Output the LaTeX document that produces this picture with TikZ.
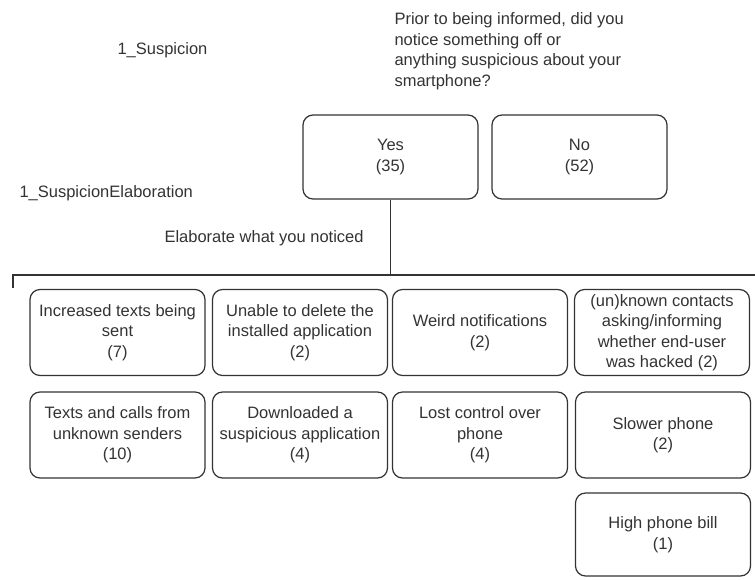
\documentclass[tikz,border=0pt]{standalone}
\usepackage{fontspec}
\setmainfont{Liberation Sans}
\definecolor{ink}{HTML}{333333}
\begin{document}
\begin{tikzpicture}[
x=1pt, y=-1pt,
every node/.style={
text=ink,
font=\fontsize{16.5}{20.5}\selectfont
},
answer/.style={
draw=ink,
line width=1.2pt,
rounded corners=10pt,
align=center,
minimum width=175pt,
minimum height=86pt,
inner sep=1pt
},
caption/.style={
align=left,
anchor=west
}
]
\useasboundingbox (0,0) rectangle (755,579);

\node[caption] (Q) at (391,51)
{Prior to being informed, did you\\notice something off or\\anything suspicious about your\\smartphone?};

\node[caption] (S) at (114,50)
{1\_Suspicion};

\node[caption] (SE) at (16,193)
{1\_SuspicionElaboration};

\node[caption] (EL) at (161,238)
{Elaborate what you noticed};

\node[answer, minimum height=84pt] (yes) at (390.5,157)
{Yes\\(35)};

\node[answer, minimum height=84pt] (no) at (579.5,157)
{No\\(52)};

\node[answer] (A1) at (117.5,332.5)
{Increased texts being\\sent\\(7)};

\node[answer] (A2) at (300,332.5)
{Unable to delete the\\installed application\\(2)};

\node[answer] (A3) at (480,332.5)
{Weird notifications\\(2)};

\node[answer] (A4) at (662,332.5)
{(un)known contacts\\asking/informing\\whether end-user\\was hacked (2)};

\node[answer] (B1) at (117.5,435)
{Texts and calls from\\unknown senders\\(10)};

\node[answer] (B2) at (300,435)
{Downloaded a\\suspicious application\\(4)};

\node[answer] (B3) at (480,435)
{Lost control over\\phone\\(4)};

\node[answer] (B4) at (663,435)
{Slower phone\\(2)};

\node[answer, minimum height=83pt] (C4) at (663,534.5)
{High phone bill\\(1)};

\coordinate (split) at (yes.south |- 0,275);
\coordinate (barL) at (13,288);
\coordinate (barR) at (755,275);

\draw[ink, line width=1.2pt] (yes) -- (split);
\draw[ink, line width=1.2pt] (barL) |- (barR);

\end{tikzpicture}
\end{document}
